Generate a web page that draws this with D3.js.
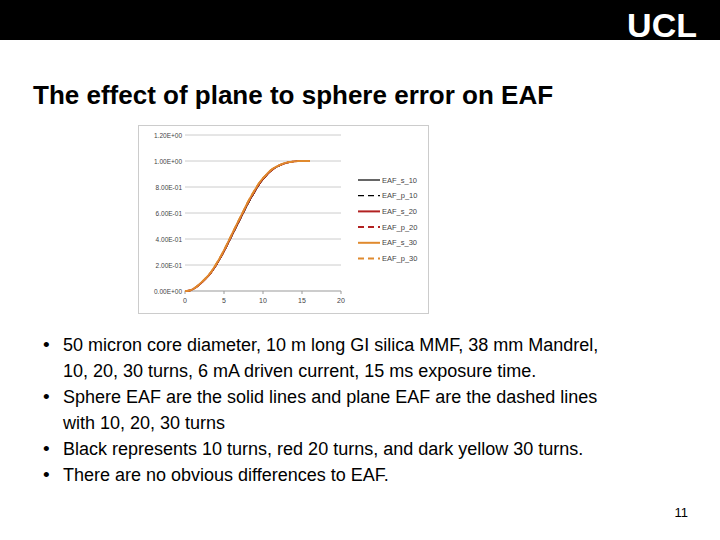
<!DOCTYPE html><html><head><meta charset="utf-8"><script src="https://cdn.jsdelivr.net/npm/d3@7"></script>
<style>body{margin:0;background:#fff}svg{display:block;font-family:"Liberation Sans",Arial,sans-serif}</style></head><body><svg id="s" width="720" height="540"></svg><script>
const xs=[0,0.5,1,1.5,2,2.5,3,3.5,4,4.5,5,5.5,6,6.5,7,7.5,8,8.5,9,9.5,10,10.5,11,11.5,12,12.5,13,13.5,14,14.5,15,15.5,16];
const eaf10=[0,0.002,0.012,0.03,0.055,0.082,0.112,0.15,0.195,0.245,0.3,0.36,0.42,0.48,0.54,0.6,0.66,0.715,0.765,0.815,0.855,0.89,0.92,0.943,0.96,0.974,0.984,0.991,0.996,0.999,1,1,1];
const eaf20=[0,0.002,0.013,0.032,0.058,0.086,0.117,0.156,0.202,0.253,0.308,0.368,0.43,0.49,0.55,0.61,0.67,0.725,0.775,0.823,0.862,0.895,0.925,0.947,0.963,0.976,0.986,0.992,0.997,0.999,1,1,1];
const eaf30=[0,0.003,0.014,0.034,0.06,0.089,0.12,0.16,0.207,0.258,0.314,0.374,0.436,0.497,0.557,0.617,0.677,0.732,0.782,0.83,0.868,0.9,0.929,0.95,0.965,0.978,0.987,0.993,0.997,0.999,1,1,1];
const series=[{n:"EAF_s_10",v:eaf10,c:"#000",d:null},{n:"EAF_p_10",v:eaf10,c:"#000",d:"6,4"},{n:"EAF_s_20",v:eaf20,c:"#b22222",d:null},{n:"EAF_p_20",v:eaf20,c:"#b22222",d:"6,4"},{n:"EAF_s_30",v:eaf30,c:"#e08a2e",d:null},{n:"EAF_p_30",v:eaf30,c:"#e08a2e",d:"6,4"}];
const yTicks=[0,0.2,0.4,0.6,0.8,1.0,1.2];
const yLabels=["0.00E+00","2.00E-01","4.00E-01","6.00E-01","8.00E-01","1.00E+00","1.20E+00"];
const xTicks=[0,5,10,15,20];
const bullets=[["50 micron core diameter, 10 m long GI silica MMF, 38 mm Mandrel,","10, 20, 30 turns, 6 mA driven current, 15 ms exposure time."],["Sphere EAF are the solid lines and plane EAF are the dashed lines","with 10, 20, 30 turns"],["Black represents 10 turns, red 20 turns, and dark yellow 30 turns."],["There are no obvious differences to EAF."]];
const svg=d3.select("#s");
svg.append("rect").attr("width",720).attr("height",40).attr("fill","#000");
svg.append("text").attr("x",697).attr("y",37).attr("text-anchor","end").attr("fill","#fff").attr("font-size",34).attr("font-weight","bold").text("UCL");
svg.append("text").attr("x",33).attr("y",104).attr("font-size",26).attr("font-weight","bold").text("The effect of plane to sphere error on EAF");
svg.append("rect").attr("x",138.5).attr("y",125.5).attr("width",290).attr("height",188).attr("fill","#fff").attr("stroke","#ccc");
const x=d3.scaleLinear().domain([0,20]).range([185,341]);
const y=d3.scaleLinear().domain([0,1.2]).range([291,135]);
const g=svg.append("g");
yTicks.forEach((t,i)=>{g.append("line").attr("x1",x(0)).attr("x2",x(20)).attr("y1",y(t)).attr("y2",y(t)).attr("stroke",i==0?"#999":"#ccc");
g.append("text").attr("x",x(0)-3).attr("y",y(t)+2.5).attr("text-anchor","end").attr("font-size",6.5).attr("fill","#444").text(yLabels[i]);});
xTicks.forEach(t=>{g.append("line").attr("x1",x(t)).attr("x2",x(t)).attr("y1",y(0)).attr("y2",y(0)+3).attr("stroke","#999");
g.append("text").attr("x",x(t)).attr("y",y(0)+12).attr("text-anchor","middle").attr("font-size",7).attr("fill","#444").text(t);});
const line=d3.line().x((d,i)=>x(xs[i])).y(d=>y(d)).curve(d3.curveMonotoneX);
series.forEach(s=>g.append("path").attr("d",line(s.v)).attr("fill","none").attr("stroke",s.c).attr("stroke-width",s.c=="#000"?1:1.8).attr("stroke-dasharray",s.d));
series.forEach((s,i)=>{const yy=180+i*15.7;g.append("line").attr("x1",358).attr("x2",380).attr("y1",yy).attr("y2",yy).attr("stroke",s.c).attr("stroke-width",s.c=="#000"?1.2:2).attr("stroke-dasharray",s.d);
g.append("text").attr("x",382).attr("y",yy+2.5).attr("font-size",7.5).attr("fill","#444").text(s.n);});
let ty=351;
bullets.forEach(b=>{b.forEach((l,j)=>{if(j==0)svg.append("text").attr("x",43).attr("y",ty).attr("font-size",19).text("•");
svg.append("text").attr("x",63).attr("y",ty).attr("font-size",18).attr("fill","#000").text(l);ty+=26;});});
svg.append("text").attr("x",688).attr("y",517).attr("text-anchor","end").attr("font-size",13).text("11");
</script></body></html>
